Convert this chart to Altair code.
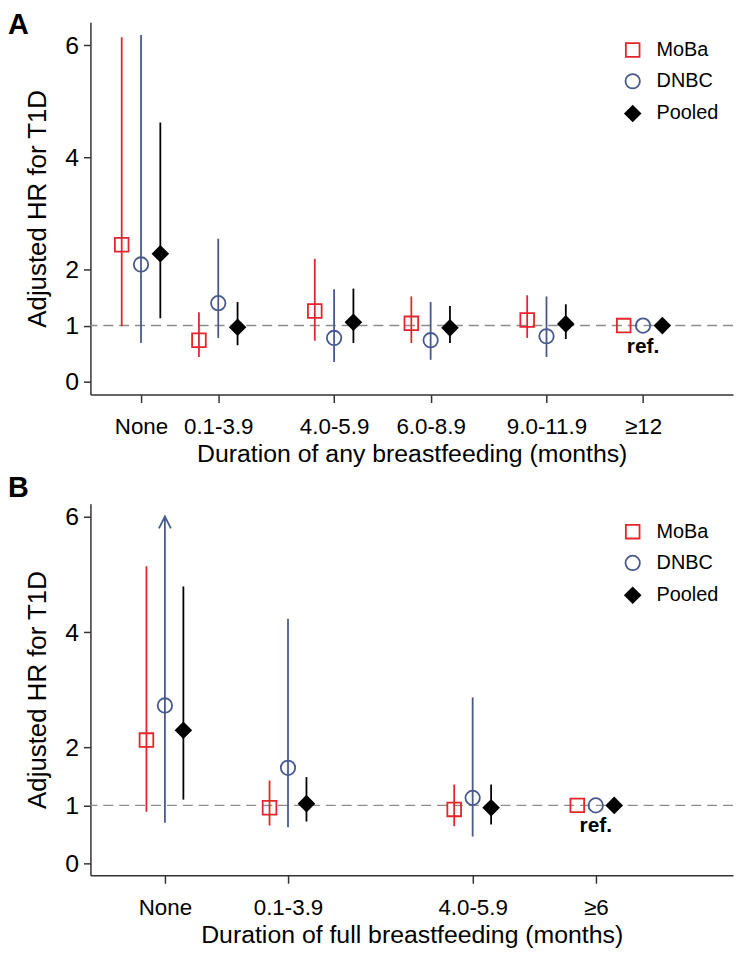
import altair as alt
import pandas as pd

FONT = "Liberation Sans"

series = ["MoBa", "DNBC", "Pooled"]
colors = ["#e3262b", "#47598e", "#000000"]
fills = ["transparent", "transparent", "#000000"]
shapes = ["square", "circle", "diamond"]
sizes = [190, 230, 430]

# Panel A: duration of any breastfeeding
A_cats = ["None", "0.1-3.9", "4.0-5.9", "6.0-8.9", "9.0-11.9", "\u226512"]
A_pos = [0, 2, 5, 7.5, 10.5, 13]
A_est = {
    "MoBa":   [2.44, 0.74, 1.26, 1.04, 1.10, 1.0],
    "DNBC":   [2.09, 1.40, 0.78, 0.74, 0.81, 1.0],
    "Pooled": [2.28, 0.97, 1.06, 0.96, 1.03, 1.0],
}
A_lo = {
    "MoBa":   [0.99, 0.44, 0.73, 0.69, 0.78, None],
    "DNBC":   [0.69, 0.78, 0.35, 0.39, 0.44, None],
    "Pooled": [1.13, 0.65, 0.69, 0.69, 0.76, None],
}
A_hi = {
    "MoBa":   [6.14, 1.24, 2.19, 1.52, 1.54, None],
    "DNBC":   [6.18, 2.55, 1.65, 1.42, 1.52, None],
    "Pooled": [4.62, 1.42, 1.66, 1.35, 1.38, None],
}

# Panel B: duration of full breastfeeding
B_cats = ["None", "0.1-3.9", "4.0-5.9", "\u22656"]
B_pos = [0, 2, 5, 7]
B_est = {
    "MoBa":   [2.13, 0.96, 0.93, 1.0],
    "DNBC":   [2.73, 1.65, 1.13, 1.0],
    "Pooled": [2.30, 1.03, 0.96, 1.0],
}
B_lo = {
    "MoBa":   [0.89, 0.65, 0.64, None],
    "DNBC":   [0.70, 0.62, 0.46, None],
    "Pooled": [1.10, 0.72, 0.67, None],
}
B_hi = {
    "MoBa":   [5.14, 1.43, 1.36, None],
    "DNBC":   [6.00, 4.23, 2.87, None],
    "Pooled": [4.79, 1.49, 1.36, None],
}
# CI truncated at the top of the axis (drawn as an arrow)
B_arrow = [("DNBC", "None")]

y_ticks = [0, 1, 2, 4, 6]


def label_expr(pos, labels):
    expr = "''"
    for p, l in reversed(list(zip(pos, labels))):
        expr = f"datum.value == {p} ? '{l}' : ({expr})"
    return expr


def panel(letter, cats, pos, offset, est, lo, hi, xtitle, xdomain, ydomain,
          height, ref_y, title_dy, xtitle_pad, arrows=()):
    rows = []
    for k, s in enumerate(series):
        for i, c in enumerate(cats):
            rows.append({
                "cat": c, "series": s, "x": pos[i] + (k - 1) * offset,
                "est": est[s][i], "lo": lo[s][i], "hi": hi[s][i],
                "col": colors[k],
            })
    df = pd.DataFrame(rows)

    xscale = alt.Scale(domain=xdomain, nice=False, zero=False)
    yscale = alt.Scale(domain=ydomain, nice=False, zero=False)
    xaxis = alt.Axis(values=pos, labelExpr=label_expr(pos, cats), title=xtitle,
                     titlePadding=xtitle_pad)
    yaxis = alt.Axis(values=y_ticks, title="Adjusted HR for T1D")

    def X(f):
        return alt.X(f, scale=xscale, axis=xaxis)

    def Y(f):
        return alt.Y(f, scale=yscale, axis=yaxis)

    leg = alt.Legend(title=None, orient="none", legendX=536, legendY=18,
                     labelFontSize=20, labelFont=FONT, symbolStrokeWidth=1.8,
                     rowPadding=9.5, labelOffset=14, padding=0)

    points = alt.Chart(df).mark_point(strokeWidth=1.8, opacity=1).encode(
        x=X("x:Q"), y=Y("est:Q"),
        shape=alt.Shape("series:N", scale=alt.Scale(domain=series, range=shapes), legend=leg),
        stroke=alt.Stroke("series:N", scale=alt.Scale(domain=series, range=colors), legend=leg),
        fill=alt.Fill("series:N", scale=alt.Scale(domain=series, range=fills), legend=leg),
        size=alt.Size("series:N", scale=alt.Scale(domain=series, range=sizes), legend=leg),
    )

    refline = alt.Chart(pd.DataFrame({"ref": [1.0]})).mark_rule(
        strokeDash=[10, 6], color="#8c8c8c", strokeWidth=1.5
    ).encode(y=Y("ref:Q"))

    ci = alt.Chart(df).transform_filter("isValid(datum.lo)").mark_rule(
        strokeWidth=1.8
    ).encode(x=X("x:Q"), y=Y("lo:Q"), y2="hi:Q",
             color=alt.Color("col:N", scale=None))

    ref_df = pd.DataFrame({"x": [pos[-1]], "y": [ref_y], "t": ["ref."]})
    reftext = alt.Chart(ref_df).mark_text(
        fontSize=21, fontWeight="bold", font=FONT, color="black"
    ).encode(x=X("x:Q"), y=Y("y:Q"), text="t:N")

    layers = [refline, ci, points, reftext]

    if arrows:
        arows = []
        for s, c in arrows:
            k = series.index(s)
            i = cats.index(c)
            arows.append({"x": pos[i] + (k - 1) * offset, "y": hi[s][i], "col": colors[k]})
        adf = pd.DataFrame(arows)
        arrow = alt.Chart(adf).mark_point(
            shape="M -0.5 1 L 0 0 L 0.5 1", size=576, filled=False,
            strokeWidth=1.8, opacity=1
        ).encode(x=X("x:Q"), y=Y("y:Q"), color=alt.Color("col:N", scale=None))
        layers.append(arrow)

    title = alt.TitleParams(letter, anchor="start", frame="group", fontSize=29,
                            fontWeight="bold", font=FONT, color="black",
                            dx=-83, dy=title_dy, offset=-8, baseline="alphabetic")
    return alt.layer(*layers).properties(width=647, height=height, title=title)


pA = panel("A", A_cats, A_pos, 0.5, A_est, A_lo, A_hi,
           "Duration of any breastfeeding (months)", [-1.31, 15.33], [-0.23, 6.41],
           375, 0.62, title_dy=33, xtitle_pad=4)
pB = panel("B", B_cats, B_pos, 0.3, B_est, B_lo, B_hi,
           "Duration of full breastfeeding (months)", [-1.21, 9.23], [-0.21, 6.22],
           374, 0.64, title_dy=14, xtitle_pad=4, arrows=B_arrow)

chart = alt.vconcat(pA, pB, spacing=7).resolve_scale(
    x="independent", y="independent", shape="independent",
    stroke="independent", fill="independent", size="independent"
).resolve_legend(shape="independent", stroke="independent",
                 fill="independent", size="independent").properties(
    padding={"left": 0, "top": 0, "right": 0, "bottom": 0}
).configure(font=FONT).configure_view(stroke=None).configure_axis(
    grid=False, domainColor="#333333", tickColor="#333333", domainWidth=1.5,
    tickWidth=1.5, labelColor="black", titleColor="black", labelFont=FONT,
    titleFont=FONT, titleFontWeight="normal"
).configure_axisX(
    labelFontSize=22.5, titleFontSize=25, tickSize=8, labelPadding=13
).configure_axisY(
    labelFontSize=25, titleFontSize=26, tickSize=7, labelPadding=5, titlePadding=14
)

chart.save("out.html", embed_options={"renderer": "svg", "actions": False})
